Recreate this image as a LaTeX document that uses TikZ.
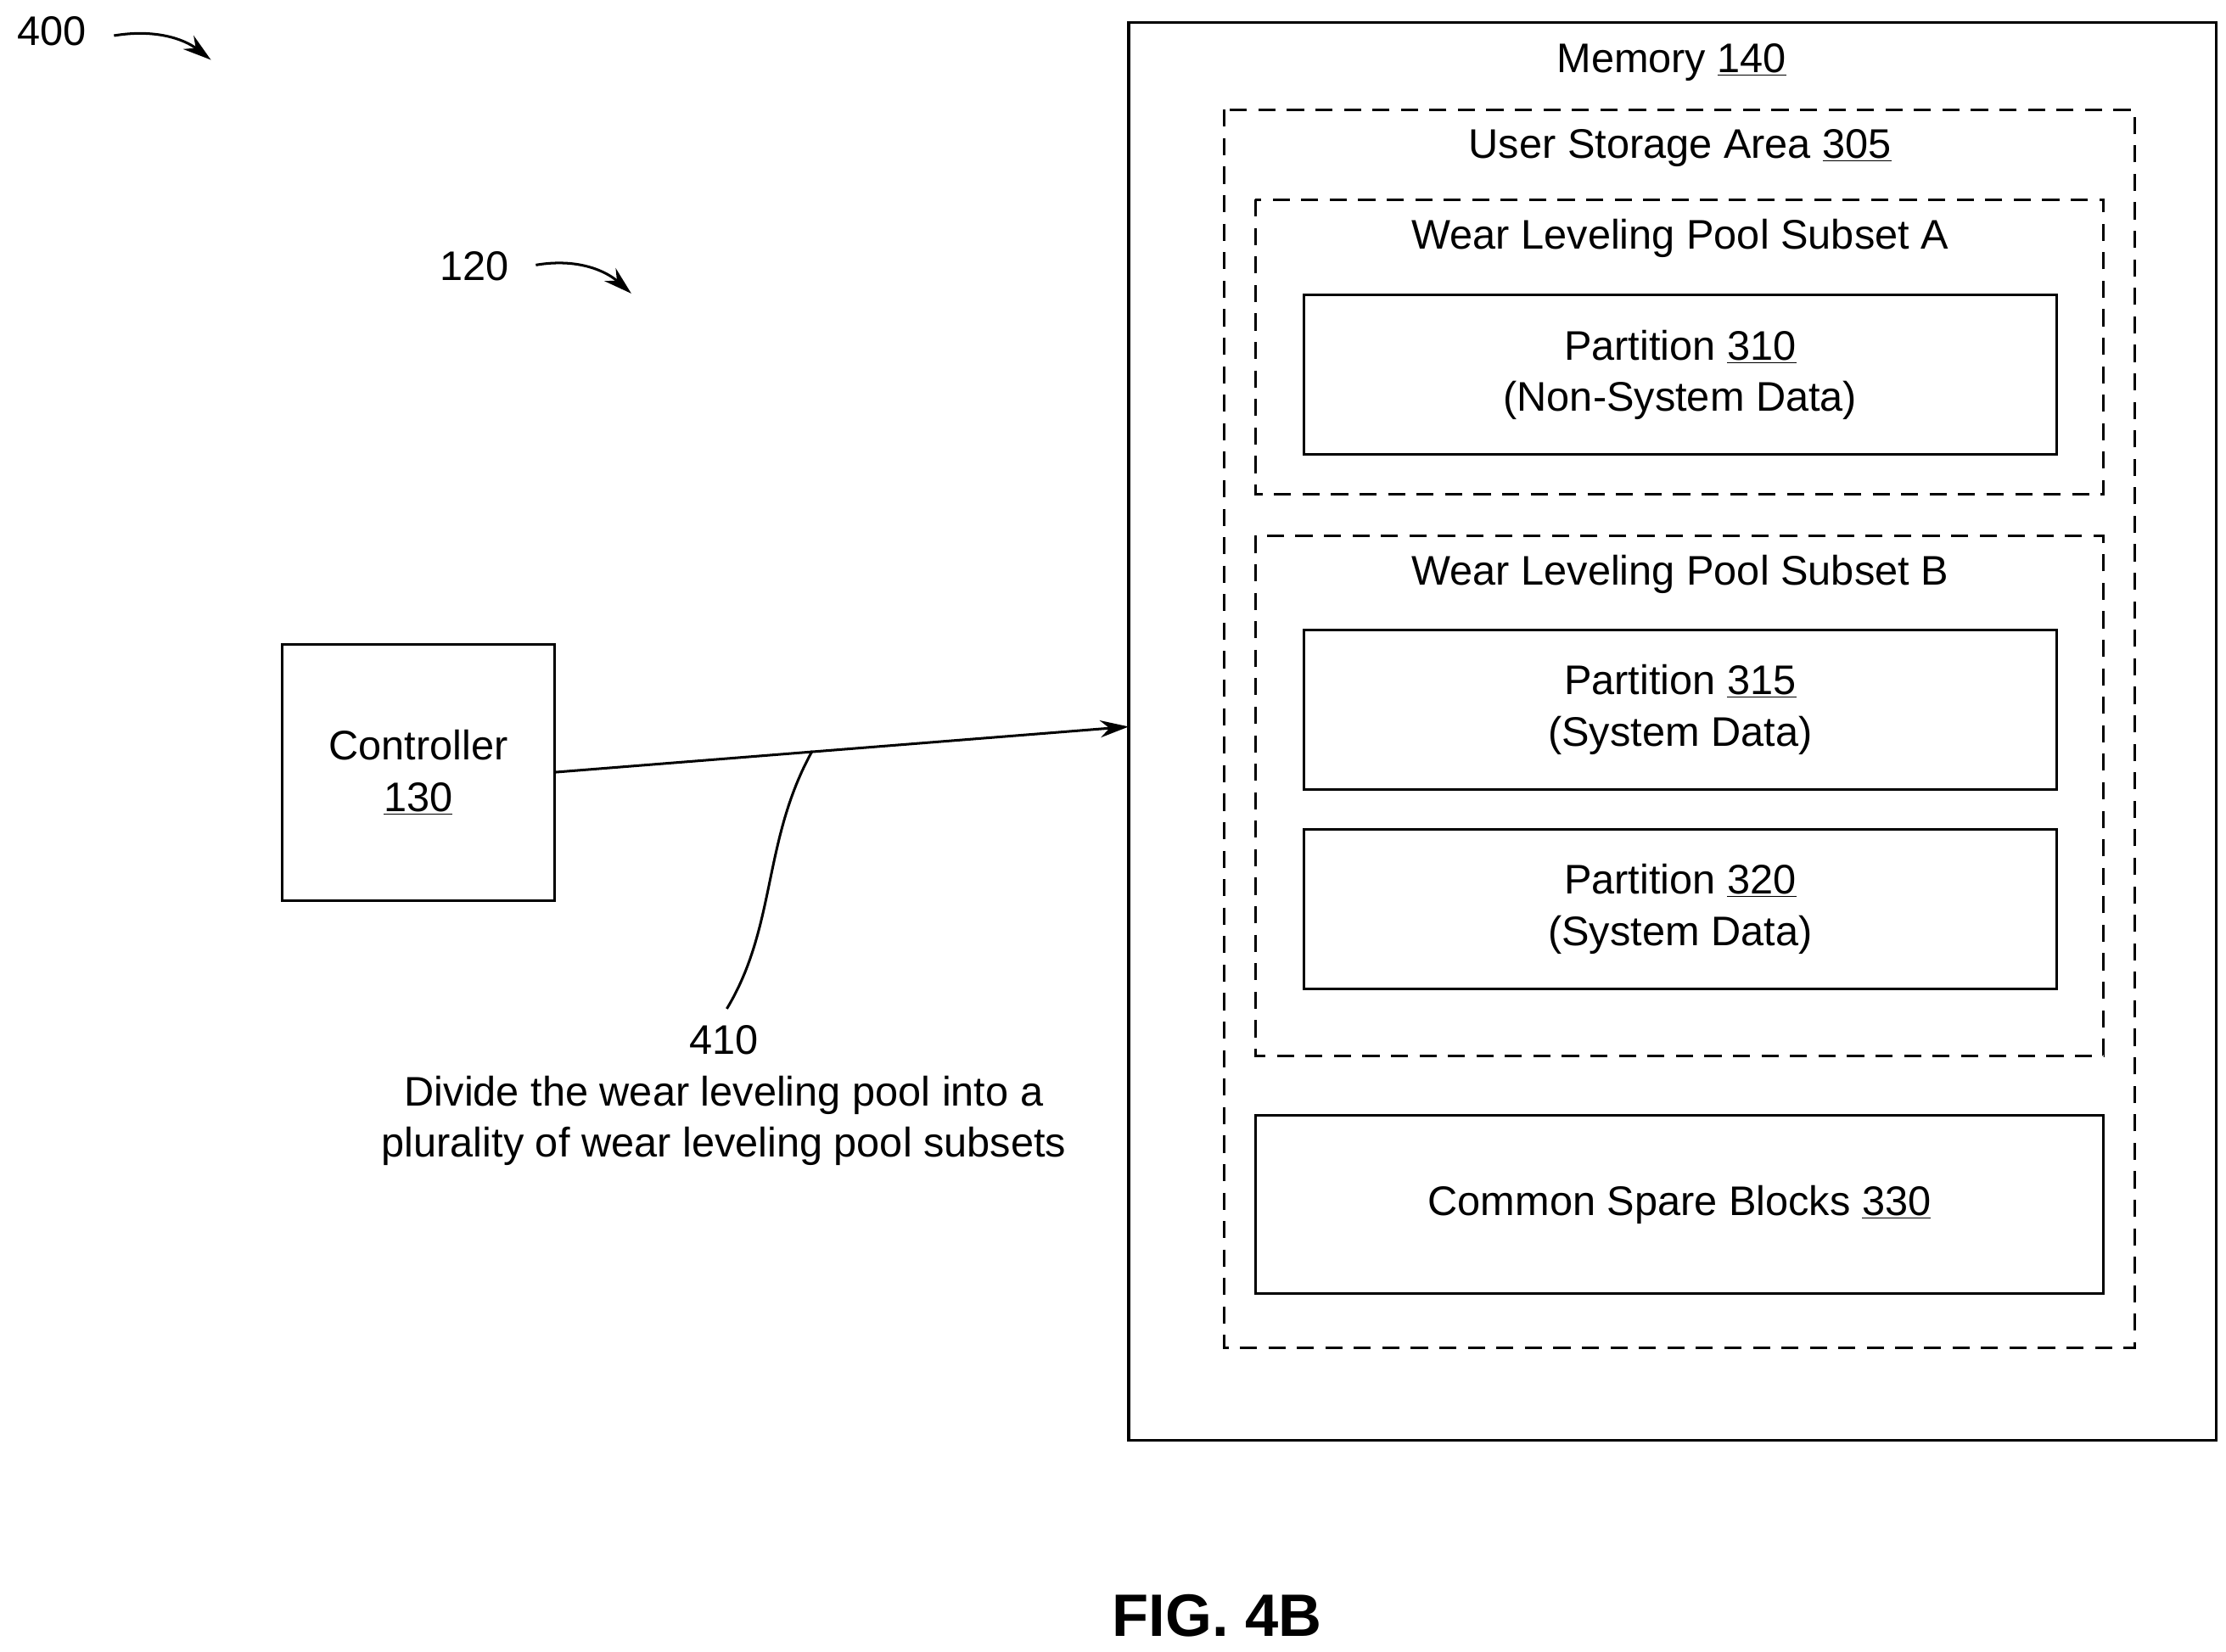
\documentclass[tikz,border=0pt]{standalone}
\usepackage{fontspec}
\setmainfont{Liberation Sans}
\usetikzlibrary{arrows.meta}
\begin{document}
\begin{tikzpicture}[x=1pt,y=-1pt,
  box/.style={draw,line width=1.8pt},
  dbox/.style={draw,line width=1.8pt,dash pattern=on 12pt off 8pt},
  lbl/.style={font=\fontsize{29}{36}\selectfont,align=center,inner sep=0pt},
  arr/.style={line width=1.8pt,-{Stealth[length=20pt,width=12pt]}},
  lead/.style={line width=1.8pt}]
\useasboundingbox (0,0) rectangle (1562,1159);
\draw[box] (792,16) rectangle (1555,1011);
\node[lbl] (mem) at (1173,44) {Memory \underline{140}};
\draw[dbox] (859,77) rectangle (1498,946);
\node[lbl] (usa) at (1179,104) {User Storage Area \underline{305}};
\draw[dbox] (881,140) rectangle (1476,347);
\node[lbl] (sa) at (1179,167) {Wear Leveling Pool Subset A};
\node[box,minimum width=528pt,minimum height=112pt,lbl] (p310) at (1179,263) {Partition \underline{310}\\(Non-System Data)};
\draw[dbox] (881,376) rectangle (1476,741);
\node[lbl] (sb) at (1179,403) {Wear Leveling Pool Subset B};
\node[box,minimum width=528pt,minimum height=112pt,lbl] (p315) at (1179,498) {Partition \underline{315}\\(System Data)};
\node[box,minimum width=528pt,minimum height=112pt,lbl] (p320) at (1179,638) {Partition \underline{320}\\(System Data)};
\node[box,minimum width=595pt,minimum height=125pt,lbl] (csb) at (1178.5,845.5) {Common Spare Blocks \underline{330}};
\node[box,minimum width=191pt,minimum height=180pt,lbl] (ctrl) at (293.5,542) {Controller\\\underline{130}};
\coordinate (a1) at (389,542);
\coordinate (a2) at (792,510);
\draw[arr] (a1) -- (a2);
\coordinate (l1) at (510,708);
\coordinate (l2) at (570,527);
\draw[lead] (l1) .. controls (545,650) and (535,590) .. (l2);
\node[lbl] (t410) at (508,769) {410\\Divide the wear leveling pool into a\\plurality of wear leveling pool subsets};
\node[lbl,anchor=west] (n400) at (12,22) {400};
\coordinate (b1) at (80,25);
\coordinate (b2) at (148,42);
\draw[arr] (b1) .. controls (110,20) and (130,28) .. (b2);
\node[lbl] (n120) at (333,187) {120};
\coordinate (c1) at (376,186);
\coordinate (c2) at (443,206);
\draw[arr] (c1) .. controls (405,181) and (425,190) .. (c2);
\node[lbl,font=\fontsize{42}{48}\selectfont\bfseries] (fig) at (854,1134) {FIG. 4B};
\end{tikzpicture}
\end{document}
